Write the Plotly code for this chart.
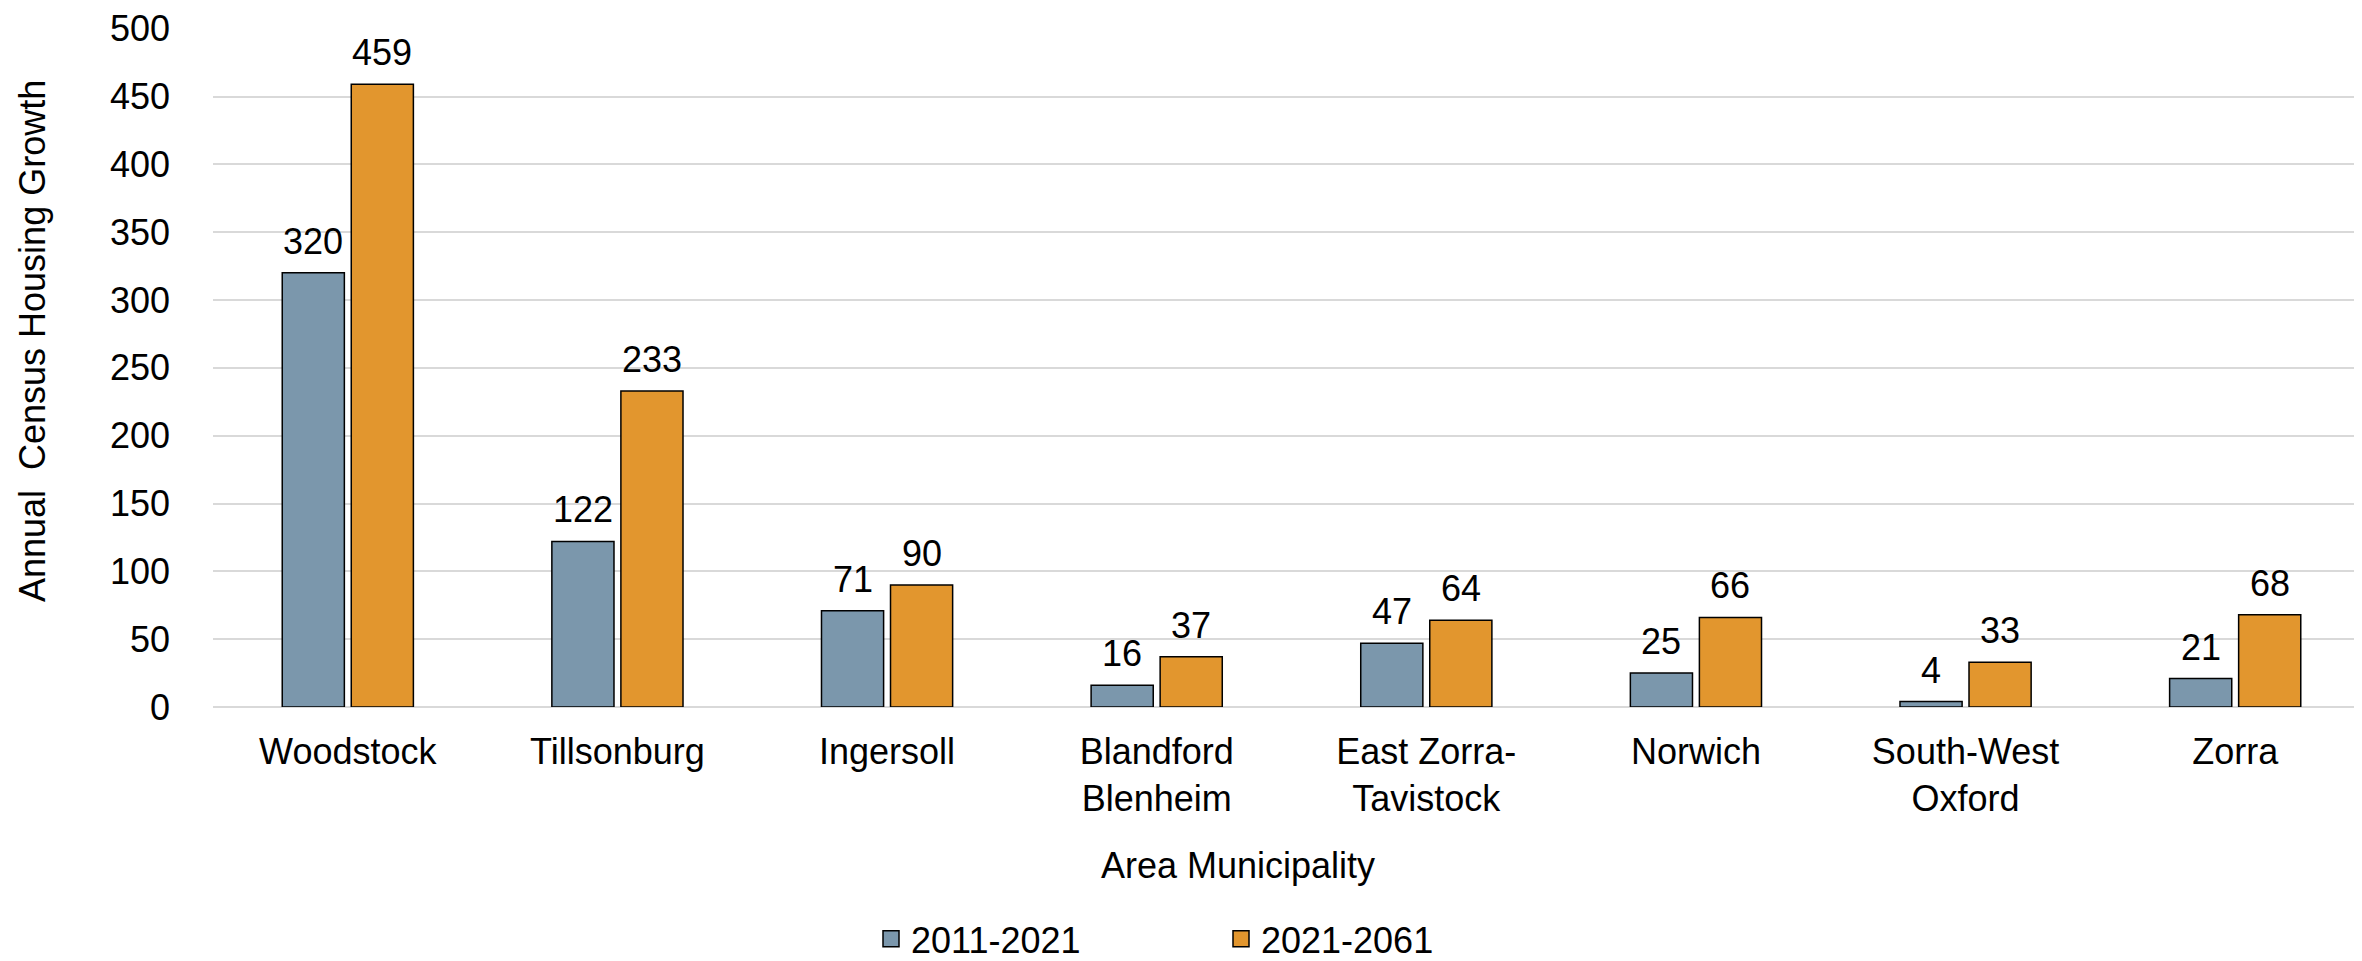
import plotly.graph_objects as go

categories = ["Woodstock", "Tillsonburg", "Ingersoll", "Blandford<br>Blenheim",
              "East Zorra-<br>Tavistock", "Norwich", "South-West<br>Oxford", "Zorra"]
series_2011_2021 = [320, 122, 71, 16, 47, 25, 4, 21]
series_2021_2061 = [459, 233, 90, 37, 64, 66, 33, 68]
series_names = ["2011-2021", "2021-2061"]
y_ticks = [0, 50, 100, 150, 200, 250, 300, 350, 400, 450, 500]

COLORS = ["#7B97AC", "#E2962E"]

W, H = 2362, 961
L, R, T, B = 205, 0, 17, 250
Y_MAX = 500.5
pw, ph = W - L - R, H - T - B

def px_x(p):
    return (p - L) / pw

def px_y(p):
    return (H - B - p) / ph

FONT = "Liberation Sans, Arial, sans-serif"
BARGAP, GROUPGAP = 0.488, 0.1
cat_w = pw / len(categories)
slot_w = cat_w * (1 - BARGAP) / 2
offsets = [-slot_w / 2, slot_w / 2]

fig = go.Figure()
annotations = []
for i, (name, vals) in enumerate(zip(series_names, [series_2011_2021, series_2021_2061])):
    fig.add_trace(go.Bar(
        name=name, x=categories, y=vals, showlegend=False,
        marker=dict(color=COLORS[i], line=dict(color="#000000", width=1.5)),
    ))
    # legend proxy with a larger square symbol
    fig.add_trace(go.Scatter(
        name=name, x=[categories[0]], y=[None], mode="markers",
        marker=dict(symbol="square", size=16, color=COLORS[i],
                    line=dict(color="#000000", width=1.5)),
        showlegend=True, hoverinfo="skip",
    ))
    for c, v in zip(categories, vals):
        annotations.append(dict(
            text=str(v), x=c, y=v, xref="x", yref="y",
            xshift=offsets[i], yshift=9, xanchor="center", yanchor="bottom",
            showarrow=False, font=dict(size=36, family=FONT, color="#000000"),
        ))

annotations += [
    dict(text="Area Municipality", xref="paper", yref="paper",
         x=px_x(1230), y=px_y(873), xanchor="center", yanchor="middle",
         showarrow=False, font=dict(size=36, family=FONT, color="#000000")),
    dict(text="Annual  Census Housing Growth", xref="paper", yref="paper",
         x=px_x(24), y=px_y(337), xanchor="center", yanchor="middle",
         textangle=-90, showarrow=False,
         font=dict(size=36, family=FONT, color="#000000")),
]

fig.update_layout(
    width=W, height=H,
    margin=dict(l=L, r=R, t=T, b=B, pad=0),
    paper_bgcolor="white", plot_bgcolor="white",
    font=dict(family=FONT, size=36, color="#000000"),
    barmode="group", bargap=BARGAP, bargroupgap=GROUPGAP,
    showlegend=True,
    legend=dict(
        orientation="h", x=px_x(1213), y=px_y(948), xanchor="center", yanchor="middle",
        font=dict(size=36, family=FONT, color="#000000"),
        entrywidth=305, entrywidthmode="pixels",
        bgcolor="rgba(0,0,0,0)",
    ),
    xaxis=dict(
        showgrid=False, showline=False, ticks="", zeroline=False,
        tickfont=dict(size=36, family=FONT, color="#000000"),
        ticklabelstandoff=20,
    ),
    yaxis=dict(
        range=[0, Y_MAX], tickvals=y_ticks, ticks="",
        showgrid=True, gridcolor="#D9D9D9", gridwidth=2,
        zeroline=True, zerolinecolor="#D9D9D9", zerolinewidth=2,
        showline=False, ticklabeloverflow="allow",
        tickfont=dict(size=36, family=FONT, color="#000000"),
        ticklabelstandoff=42,
    ),
    annotations=annotations,
)

fig.write_html("out.html")
